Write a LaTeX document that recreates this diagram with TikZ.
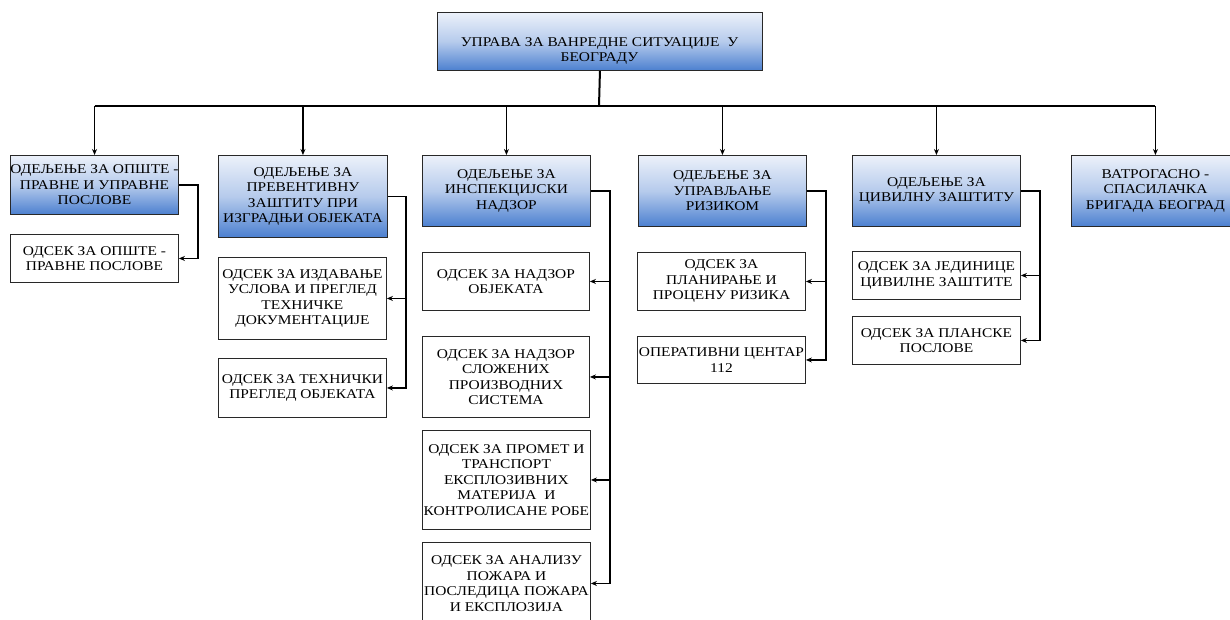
\documentclass[tikz,border=0pt]{standalone}
\usepackage{fontspec}
\setmainfont[FakeStretch=1.15]{Liberation Serif}
\usetikzlibrary{arrows.meta}
\definecolor{gtop}{RGB}{236,241,250}
\definecolor{gmid}{RGB}{182,203,236}
\definecolor{gbot}{RGB}{76,128,208}
\definecolor{edge}{RGB}{40,40,40}
\tikzset{
  box/.style={draw=edge, line width=0.9pt, inner sep=0pt, anchor=north west, align=center,
    font=\fontsize{13.4}{15.5}\selectfont},
  dept/.style={box, top color=gtop, bottom color=gbot, middle color=gmid},
  subbox/.style={box, fill=white},
  conn/.style={line width=1.2pt, draw=black},
  arr/.style={conn, -{Stealth[length=6pt,width=5pt]}},
  lbl/.style={inner sep=0pt, align=center, font=\fontsize{13.4}{15.5}\selectfont}
}
\begin{document}
\begin{tikzpicture}[x=1pt,y=-1pt]
\useasboundingbox (0,0) rectangle (1230,619);
\clip (0,0) rectangle (1230,619);
% top
\node[dept, minimum width=325, minimum height=58] (top) at (437,12) {};
\node[lbl] (toptext) at (599.5,51) {УПРАВА ЗА ВАНРЕДНЕ СИТУАЦИЈЕ\ \ У\\БЕОГРАДУ};
% departments
\node[dept, minimum width=168, minimum height=59] (d1) at (10,155) {ОДЕЉЕЊЕ ЗА ОПШТЕ -\\ПРАВНЕ И УПРАВНЕ\\ПОСЛОВЕ};
\node[dept, minimum width=169, minimum height=82] (d2) at (218,155) {ОДЕЉЕЊЕ ЗА\\ПРЕВЕНТИВНУ\\ЗАШТИТУ ПРИ\\ИЗГРАДЊИ ОБЈЕКАТА};
\node[dept, minimum width=168, minimum height=71] (d3) at (422,155) {ОДЕЉЕЊЕ ЗА\\ИНСПЕКЦИЈСКИ\\НАДЗОР};
\node[dept, minimum width=168, minimum height=71] (d4) at (638,155) {ОДЕЉЕЊЕ ЗА\\УПРАВЉАЊЕ\\РИЗИКОМ};
\node[dept, minimum width=168, minimum height=71] (d5) at (852,155) {ОДЕЉЕЊЕ ЗА\\ЦИВИЛНУ ЗАШТИТУ};
\node[dept, minimum width=168, minimum height=71] (d6) at (1071,155) {ВАТРОГАСНО -\\СПАСИЛАЧКА\\БРИГАДА БЕОГРАД};
% sub units
\node[subbox, minimum width=168, minimum height=48] (s11) at (10,234) {ОДСЕК ЗА ОПШТЕ -\\ПРАВНЕ ПОСЛОВЕ};
\node[subbox, minimum width=168, minimum height=82] (s21) at (218,257) {ОДСЕК ЗА ИЗДАВАЊЕ\\УСЛОВА И ПРЕГЛЕД\\ТЕХНИЧКЕ\\ДОКУМЕНТАЦИЈЕ};
\node[subbox, minimum width=168, minimum height=59] (s22) at (218,358) {ОДСЕК ЗА ТЕХНИЧКИ\\ПРЕГЛЕД ОБЈЕКАТА};
\node[subbox, minimum width=167, minimum height=58] (s31) at (422,252) {ОДСЕК ЗА НАДЗОР\\ОБЈЕКАТА};
\node[subbox, minimum width=167, minimum height=81] (s32) at (422,336) {ОДСЕК ЗА НАДЗОР\\СЛОЖЕНИХ\\ПРОИЗВОДНИХ\\СИСТЕМА};
\node[subbox, minimum width=168, minimum height=99] (s33) at (422,430) {ОДСЕК ЗА ПРОМЕТ И\\ТРАНСПОРТ\\ЕКСПЛОЗИВНИХ\\МАТЕРИЈА\ \ И\\КОНТРОЛИСАНЕ РОБЕ};
\node[subbox, minimum width=168, minimum height=82] (s34) at (422,542) {ОДСЕК ЗА АНАЛИЗУ\\ПОЖАРА И\\ПОСЛЕДИЦА ПОЖАРА\\И ЕКСПЛОЗИЈА};
\node[subbox, minimum width=168, minimum height=58] (s41) at (637,252) {ОДСЕК ЗА\\ПЛАНИРАЊЕ И\\ПРОЦЕНУ РИЗИКА};
\node[subbox, minimum width=168, minimum height=47] (s42) at (637,336) {ОПЕРАТИВНИ ЦЕНТАР\\112};
\node[subbox, minimum width=168, minimum height=48] (s51) at (852,251) {ОДСЕК ЗА ЈЕДИНИЦЕ\\ЦИВИЛНЕ ЗАШТИТЕ};
\node[subbox, minimum width=168, minimum height=48] (s52) at (852,316) {ОДСЕК ЗА ПЛАНСКЕ\\ПОСЛОВЕ};
% trunk and bus
\coordinate (bus) at (599,106);
\draw[conn, line width=2pt] (top.south) -- (bus);
\draw[conn] (bus -| d1.north) -- (bus -| d6.north);
\foreach \d in {d1,d2,d3,d4,d5,d6} {
  \draw[arr] (bus -| \d.north) -- (\d.north);
}
% department to sections
\draw[arr] (d1.east) -- ++(19,0) |- (s11.east);
\draw[arr] (d2.east) -- ++(18,0) |- (s21.east);
\draw[arr] (d2.east) ++(18,0) |- (s22.east);
\draw[arr] (d3.east) -- ++(19,0) |- (s31.east);
\draw[arr] (d3.east) ++(19,0) |- (s32.east);
\draw[arr] (d3.east) ++(19,0) |- (s33.east);
\draw[arr] (d3.east) ++(19,0) |- (s34.east);
\draw[arr] (d4.east) -- ++(19,0) |- (s41.east);
\draw[arr] (d4.east) ++(19,0) |- (s42.east);
\draw[arr] (d5.east) -- ++(19,0) |- (s51.east);
\draw[arr] (d5.east) ++(19,0) |- (s52.east);
\end{tikzpicture}
\end{document}
